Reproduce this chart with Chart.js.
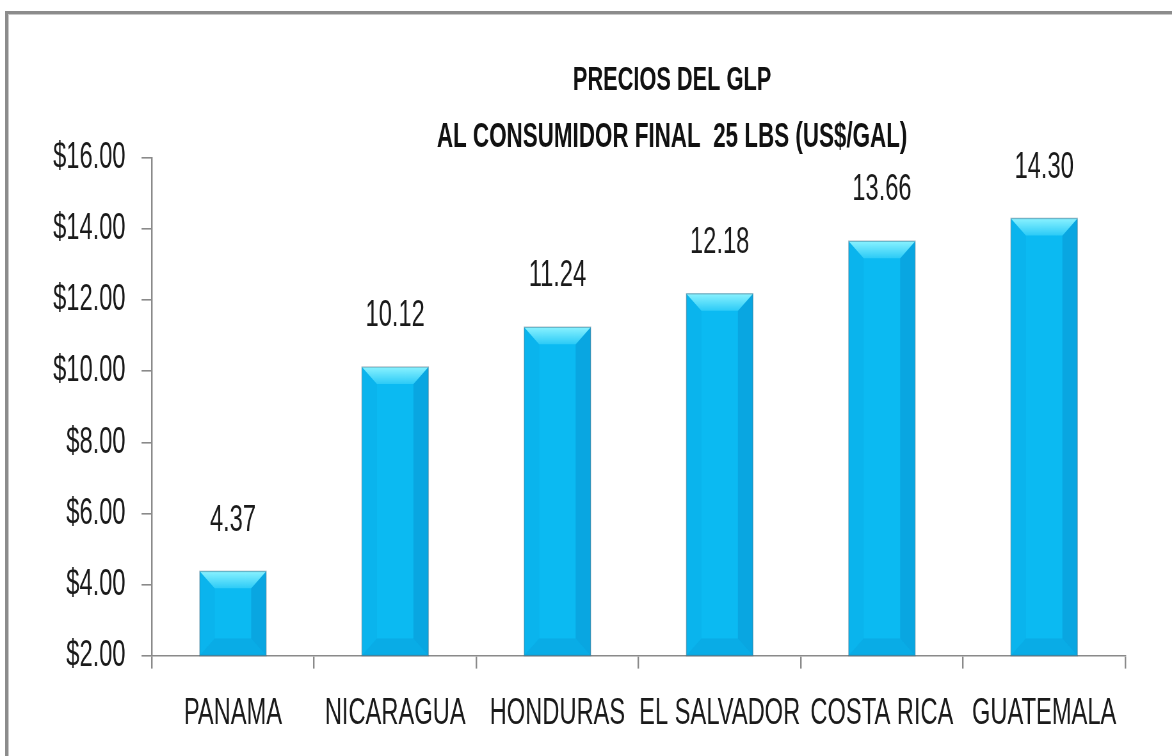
<!DOCTYPE html>
<html>
<head>
<meta charset="utf-8">
<script src="https://cdn.jsdelivr.net/npm/chart.js@4.4.1/dist/chart.umd.min.js"></script>
<style>
  html, body { margin: 0; padding: 0; background: #fff; overflow: hidden; }
  #wrap { position: relative; width: 1172px; height: 756px; overflow: hidden; }
  #c { position: absolute; left: 0; top: 0; }
  #frame { position: absolute; left: 5px; top: 11px; width: 1300px; height: 900px;
           border-left: 3px solid #8c8c8c; border-top: 3px solid #8c8c8c; pointer-events: none; }
  #frame2 { position: absolute; left: 8px; top: 14px; width: 1300px; height: 900px;
           border-left: 1px solid #c8c8c8; border-top: 1px solid #c8c8c8; pointer-events: none; }
</style>
</head>
<body>
<div id="wrap">
  <canvas id="c" width="1831" height="756" style="width:1172px;height:756px;"></canvas>
  <div id="frame"></div>
  <div id="frame2"></div>
</div>
<script>
// ---- data ----
const categories = ['PANAMA', 'NICARAGUA', 'HONDURAS', 'EL SALVADOR', 'COSTA RICA', 'GUATEMALA'];
const prices = [4.37, 10.12, 11.24, 12.18, 13.66, 14.30];
const titleLines = ['PRECIOS DEL GLP', 'AL CONSUMIDOR FINAL  25 LBS (US$/GAL)'];
const yMin = 2, yMax = 16, yStep = 2;

// ---- horizontal compression (text looks condensed in the reference) ----
const K = 0.64;
const FONT = '"Liberation Sans", Arial, sans-serif';

const titlePlugin = {
  id: 'customTitle',
  afterDraw(chart) {
    const ctx = chart.ctx;
    ctx.save();
    ctx.fillStyle = '#111';
    ctx.textAlign = 'center';
    ctx.textBaseline = 'middle';
    const cx = 672 / K;
    ctx.font = 'bold 34px ' + FONT;
    ctx.fillText(titleLines[0], cx, 81);
    ctx.font = 'bold 35px ' + FONT;
    ctx.fillText(titleLines[1], cx, 137);
    ctx.restore();
  }
};

const bevelPlugin = {
  id: 'bevel',
  afterDatasetsDraw(chart) {
    const ctx = chart.ctx;
    const meta = chart.getDatasetMeta(0);
    meta.data.forEach(bar => {
      const w = bar.width;
      const l = bar.x - w / 2, r = bar.x + w / 2, t = bar.y;
      const b = Math.min(bar.base, chart.chartArea.bottom);
      const inset = 15 / K, bh = 17;
      ctx.save();
      // left strip
      ctx.beginPath();
      ctx.moveTo(l, t); ctx.lineTo(l + inset, t + bh); ctx.lineTo(l + inset, b - bh); ctx.lineTo(l, b); ctx.closePath();
      ctx.fillStyle = 'rgba(0,110,180,0.08)';
      ctx.fill();
      // right strip
      ctx.beginPath();
      ctx.moveTo(r, t); ctx.lineTo(r - inset, t + bh); ctx.lineTo(r - inset, b - bh); ctx.lineTo(r, b); ctx.closePath();
      ctx.fillStyle = 'rgba(0,80,150,0.18)';
      ctx.fill();
      // bottom
      ctx.beginPath();
      ctx.moveTo(l, b); ctx.lineTo(l + inset, b - bh); ctx.lineTo(r - inset, b - bh); ctx.lineTo(r, b); ctx.closePath();
      ctx.fillStyle = 'rgba(0,90,160,0.14)';
      ctx.fill();
      // top
      const g = ctx.createLinearGradient(0, t, 0, t + bh);
      g.addColorStop(0, '#8AF2FF');
      g.addColorStop(1, '#2CCBF7');
      ctx.beginPath();
      ctx.moveTo(l, t); ctx.lineTo(r, t); ctx.lineTo(r - inset, t + bh); ctx.lineTo(l + inset, t + bh); ctx.closePath();
      ctx.fillStyle = g;
      ctx.fill();
      // outline
      ctx.strokeStyle = 'rgba(60,90,110,0.35)';
      ctx.lineWidth = 1.5;
      ctx.strokeRect(l, t, w, b - t);
      ctx.restore();
    });
  }
};

const valuePlugin = {
  id: 'values',
  afterDatasetsDraw(chart) {
    const ctx = chart.ctx;
    const meta = chart.getDatasetMeta(0);
    ctx.save();
    ctx.fillStyle = '#1a1a1a';
    ctx.font = '37px ' + FONT;
    ctx.textAlign = 'center';
    ctx.textBaseline = 'middle';
    meta.data.forEach((bar, i) => {
      ctx.fillText(prices[i].toFixed(2), bar.x, bar.y - 51);
    });
    ctx.restore();
  }
};

new Chart(document.getElementById('c'), {
  type: 'bar',
  data: {
    labels: categories,
    datasets: [{
      data: prices,
      backgroundColor: '#0BBAF2',
      borderWidth: 0,
      barPercentage: 0.41,
      categoryPercentage: 1.0
    }]
  },
  options: {
    responsive: false,
    devicePixelRatio: 1,
    animation: false,
    layout: { padding: { left: 58, right: 73, top: 158, bottom: -3 } },
    plugins: { legend: { display: false }, title: { display: false }, tooltip: { enabled: false } },
    scales: {
      x: {
        grid: { display: true, drawOnChartArea: false, drawTicks: true, tickLength: 13, color: '#8a8a8a', lineWidth: 2.4, offset: true },
        border: { display: true, color: '#8a8a8a', width: 1.6 },
        ticks: { color: '#1a1a1a', font: { family: FONT, size: 37 }, padding: 23, maxRotation: 0, autoSkip: false }
      },
      y: {
        min: yMin, max: yMax,
        grid: { display: true, drawOnChartArea: false, drawTicks: true, tickLength: 16, color: '#8a8a8a', lineWidth: 1.6 },
        border: { display: true, color: '#8a8a8a', width: 2.4 },
        ticks: { stepSize: yStep, color: '#1a1a1a', font: { family: FONT, size: 37 }, padding: 25,
                 callback: v => '$' + Number(v).toFixed(2) }
      }
    }
  },
  plugins: [bevelPlugin, valuePlugin, titlePlugin]
});
</script>
</body>
</html>
